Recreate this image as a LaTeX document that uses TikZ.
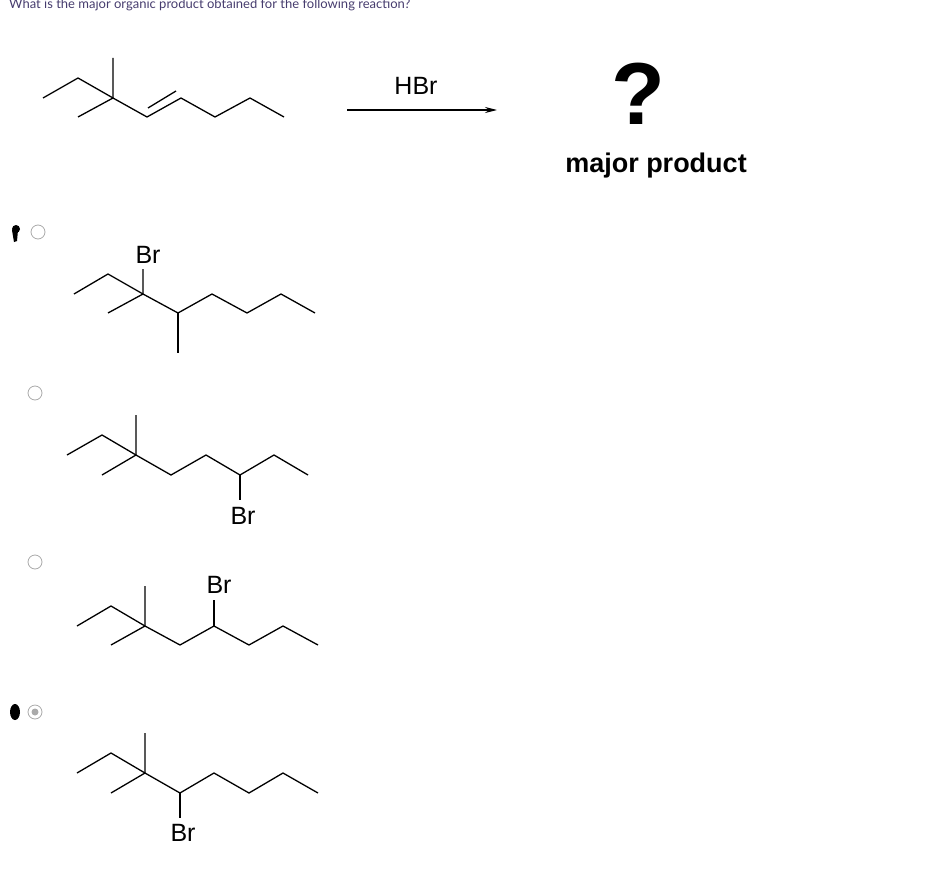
\documentclass[tikz,border=0pt]{standalone}
\usepackage{fontspec}
\setmainfont{Liberation Sans}
\newfontfamily\latofont{Lato}
\usetikzlibrary{arrows.meta}
\definecolor{qtext}{RGB}{70,60,110}
\definecolor{radiogray}{RGB}{170,170,170}
\tikzset{
  bond/.style={line width=1.3pt},
  atomlabel/.style={font=\fontsize{25}{25}\selectfont},
  radio/.style={draw=radiogray,line width=0.8pt,fill=white},
}
\begin{document}
\begin{tikzpicture}[x=1pt,y=-1pt]
      \useasboundingbox (0,0) rectangle (934,872);
      \node[anchor=north west,inner sep=0pt,text=qtext,font=\latofont\fontsize{13}{13}\selectfont] (q) at (9,-1) {What is the major organic product obtained for the following reaction?};

      % starting alkene
      \draw[bond] (43,98) -- (78,78) -- (113,98) -- (147,117) -- (181,98) -- (215,117) -- (250,98) -- (284,117);
      \draw[bond] (113,58) -- (113,98) -- (78,117);
      \draw[bond] (148,108) -- (176,91);

      % reaction arrow
      \coordinate (A) at (347,110);
      \coordinate (B) at (497,110);
      \draw[line width=1.2pt,-{Stealth[length=12pt,width=6pt]}] (A) -- (B);
      \node[font=\fontsize{25}{25}\selectfont] (reag) at (416,86) {HBr};
      \node[font=\bfseries\fontsize{88}{88}\selectfont] (qm) at (638,94) {?};
      \node[font=\bfseries\fontsize{27}{27}\selectfont] (prod) at (656,166) {major product};

      % answer choices
      \node[circle,radio,minimum size=14pt,inner sep=0pt] (r1) at (38,232) {};
      \node[circle,radio,minimum size=14pt,inner sep=0pt] (r2) at (35,393) {};
      \node[circle,radio,minimum size=14pt,inner sep=0pt] (r3) at (35,562) {};
      \node[circle,radio,minimum size=14pt,inner sep=0pt] (r4) at (35,712) {};
      \fill[radiogray] (r4) circle (3.5pt);
      \fill (16,229) circle (4pt) (12,230) -- (14,242) -- (17,241) -- (18,230) -- cycle;
      \fill (15,712) ellipse (5pt and 8pt);

      % choice 1
      \draw[bond] (74,294) -- (108,274) -- (143,294) -- (178,313) -- (212,294) -- (247,313) -- (281,294) -- (315,313);
      \draw[bond] (143,269) -- (143,294) -- (108,313);
      \draw[bond] (178,313) -- (178,353);
      \node[atomlabel] (br1) at (148,255) {Br};

      % choice 2
      \draw[bond] (67,455) -- (102,435) -- (136,455) -- (171,475) -- (206,455) -- (240,475) -- (274,455) -- (308,475);
      \draw[bond] (136,415) -- (136,455) -- (102,475);
      \draw[bond] (240,475) -- (240,500);
      \node[atomlabel] (br2) at (243,516) {Br};

      % choice 3
      \draw[bond] (77,626) -- (111,606) -- (145,626) -- (180,645) -- (214,626) -- (249,645) -- (283,626) -- (318,645);
      \draw[bond] (145,586) -- (145,626) -- (111,645);
      \draw[bond] (214,626) -- (214,600);
      \node[atomlabel] (br3) at (219,585) {Br};

      % choice 4
      \draw[bond] (77,773) -- (111,753) -- (145,773) -- (180,793) -- (214,773) -- (249,793) -- (283,773) -- (318,793);
      \draw[bond] (145,733) -- (145,773) -- (111,793);
      \draw[bond] (180,793) -- (180,818);
      \node[atomlabel] (br4) at (183,833) {Br};
\end{tikzpicture}
\end{document}
